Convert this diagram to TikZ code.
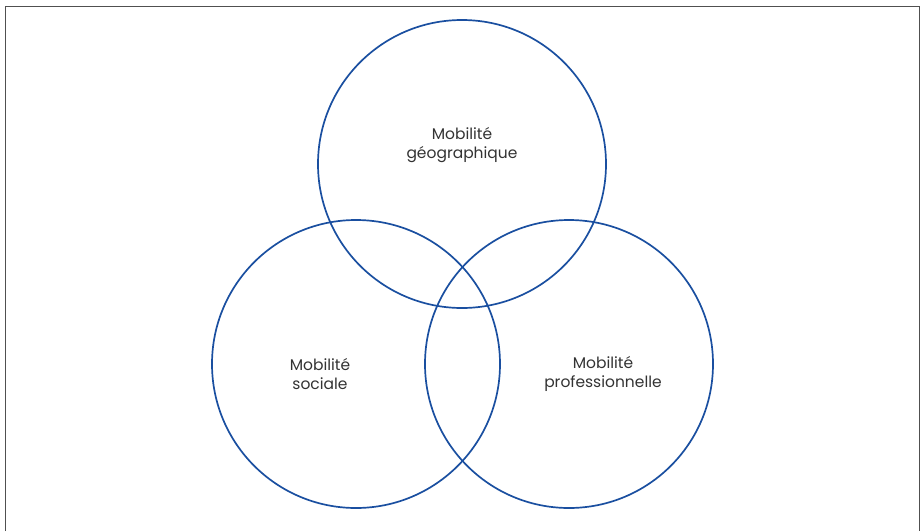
\documentclass[tikz,border=0pt]{standalone}
\usepackage{fontspec}
\setmainfont{Poppins}
\definecolor{ringblue}{HTML}{1A4FA0}
\definecolor{framegrey}{HTML}{505050}
\definecolor{labelgrey}{HTML}{333333}
\begin{document}
\begin{tikzpicture}[x=1pt,y=-1pt,
  ring/.style={draw=ringblue,line width=1.7pt,circle,minimum size=288pt,inner sep=0pt},
  label/.style={text=labelgrey,align=center,font=\fontsize{15.5}{19.5}\selectfont}]
\useasboundingbox (0,0) rectangle (922,531);
% open frame: left, top and right sides
\draw[framegrey,line width=1.8pt] (5.5,531) -- (5.5,6.5) -- (919.5,6.5) -- (919.5,531);
% the three overlapping rings
\node[ring] (geo) at (462,164) {};
\node[ring] (soc) at (356,364) {};
\node[ring] (pro) at (569,364) {};
% ring labels
\node[label] (geoT) at (462,145) {Mobilité\\géographique};
\node[label] (socT) at (320,374) {Mobilité\\sociale};
\node[label] (proT) at (603,374) {Mobilité\\professionnelle};
\end{tikzpicture}
\end{document}
